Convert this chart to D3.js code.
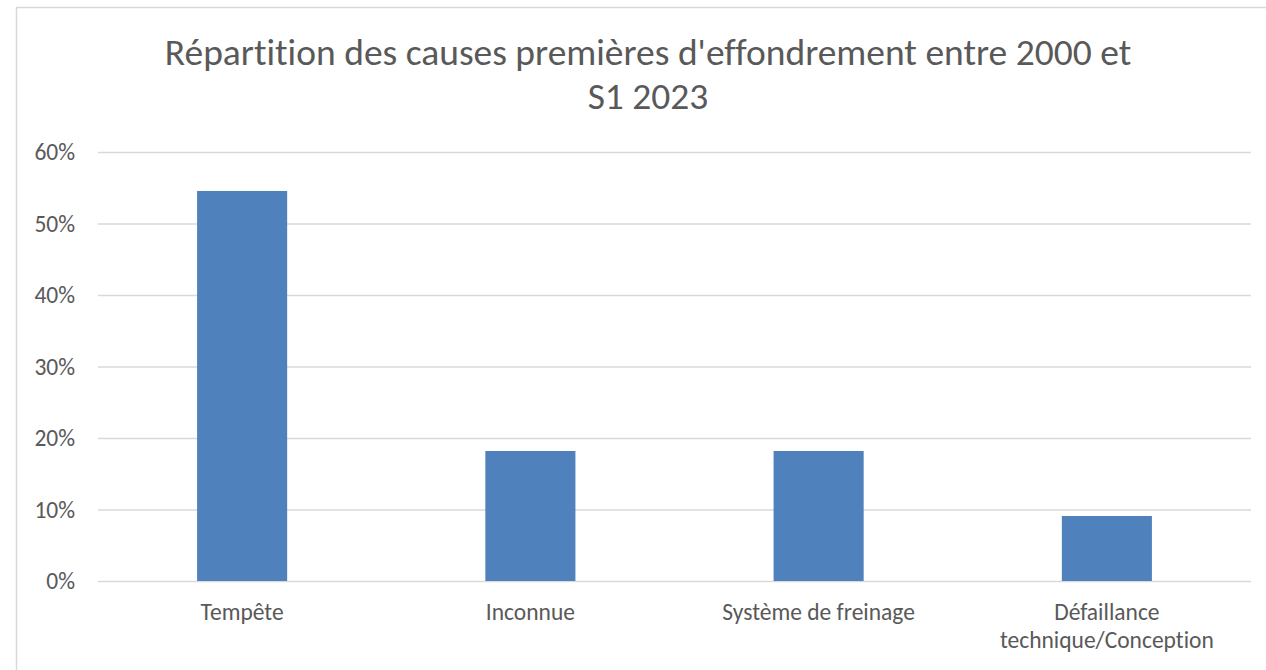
<!DOCTYPE html>
<html><head><meta charset="utf-8">
<script src="https://cdn.jsdelivr.net/npm/d3@7"></script>
<style>
html,body{margin:0;padding:0;background:#fff;}
svg{display:block;}
text{font-family:Carlito,Lato,"Open Sans",sans-serif;fill:#595959;font-variant-ligatures:none;}
</style></head>
<body>
<svg id="chart" width="1266" height="670"></svg>
<script>
const categories = ["Tempête", "Inconnue", "Système de freinage", "Défaillance technique/Conception"];
const values = [0.5455, 0.1818, 0.1818, 0.0909];
const yTicks = [0, 0.1, 0.2, 0.3, 0.4, 0.5, 0.6];
const titleLines = ["Répartition des causes premières d'effondrement entre 2000 et", "S1 2023"];
const labelLines = [["Tempête"], ["Inconnue"], ["Système de freinage"], ["Défaillance", "technique/Conception"]];

(function () {
const svg = d3.select("#chart");
const W = 1266, H = 670;
const FONT = "Carlito,Lato,'Open Sans',sans-serif";

// outer chart border
svg.append("rect").attr("x", 16.5).attr("y", 7.5).attr("width", W + 10).attr("height", H + 10)
  .attr("fill", "#fff").attr("stroke", "#D9D9D9").attr("stroke-width", 1.5);

const pl = 98, pr = 1251, pt = 152, pb = 581;

const x = d3.scaleBand().domain(categories).range([pl, pr])
  .paddingInner(0.6875).paddingOuter(0.34375);
const y = d3.scaleLinear().domain([0, 0.6]).range([pb, pt]);

// gridlines
const yAxis = d3.axisLeft(y).tickValues(yTicks).tickFormat(d3.format(".0%"))
  .tickSize(-(pr - pl)).tickPadding(23);
const gy = svg.append("g").attr("transform", `translate(${pl},0)`).call(yAxis);
gy.attr("font-family", FONT).attr("font-size", 23.5);
gy.select(".domain").remove();
gy.selectAll(".tick line").attr("stroke", "#D9D9D9").attr("stroke-width", 1.5);
gy.selectAll(".tick text").attr("fill", "#595959");

// bars
svg.append("g").selectAll("rect").data(values).join("rect")
  .attr("x", (d, i) => x(categories[i]))
  .attr("y", d => y(d))
  .attr("width", x.bandwidth())
  .attr("height", d => y(0) - y(d))
  .attr("fill", "#4F81BD");

// category labels
const gl = svg.append("g");
labelLines.forEach((lines, i) => {
  const cx = x(categories[i]) + x.bandwidth() / 2;
  const t = gl.append("text").attr("text-anchor", "middle").attr("font-size", 23.5);
  lines.forEach((ln, j) => {
    t.append("tspan").attr("x", cx).attr("y", 620 + j * 28).text(ln);
  });
});

// title
const tt = svg.append("text").attr("text-anchor", "middle").attr("font-size", 37.5);
titleLines.forEach((ln, j) => {
  tt.append("tspan").attr("x", 648).attr("y", 65 + j * 44).text(ln);
});
})();
</script>
</body></html>
